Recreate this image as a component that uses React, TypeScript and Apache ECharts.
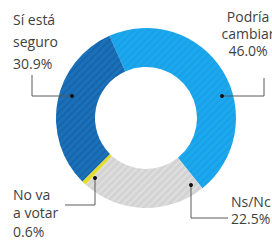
import React, { useEffect, useRef } from "react";
import * as echarts from "echarts";

// ---- data ----
const categories = ["Podría cambiar", "Ns/Nc", "No va a votar", "Sí está seguro"];
const values = [46.0, 22.5, 0.6, 30.9];
const labelTexts = [["Podría", "cambiar"], ["Ns/Nc"], ["No va", "a votar"], ["Sí está", "seguro"]];

// ---- styles ----
const colors = ["#1ca8ee", "#d3d3d3", "#e4dc2a", "#1a71b9"];
const stripeColors = ["rgba(0,60,120,0.08)", "rgba(255,255,255,0.25)", "rgba(255,255,255,0.12)", "rgba(0,20,60,0.12)"];
const labelPlacement = [
  { x: 248, y: 8, align: "center", lh: 17, line: [[222, 96], [264, 96], [264, 78]] },
  { x: 231, y: 193, align: "left", lh: 17, line: [[191, 185], [191, 218], [228, 218]] },
  { x: 13, y: 185, align: "left", lh: 18.5, line: [[95, 178], [95, 205], [65, 205]] },
  { x: 13, y: 8, align: "left", lh: 22, line: [[72, 96], [32, 96], [32, 75]] },
];

export default function App() {
  const ref = useRef<HTMLDivElement>(null);
  useEffect(() => {
    document.body.style.margin = "0";
    const chart = echarts.init(ref.current!, null, { renderer: "svg" });
    const graphics: any[] = [];
    categories.forEach((c, i) => {
      const p = labelPlacement[i];
      graphics.push({
        type: "polyline",
        shape: { points: p.line },
        style: { stroke: "#5a5a5a", lineWidth: 1, fill: null },
        z: 10,
      });
      graphics.push({
        type: "circle",
        shape: { cx: p.line[0][0], cy: p.line[0][1], r: 2 },
        style: { fill: "#111" },
        z: 11,
      });
      const text = [...labelTexts[i], values[i].toFixed(1) + "%"].join("\n");
      graphics.push({
        type: "text",
        x: p.x,
        y: p.y,
        z: 12,
        style: {
          text,
          fontSize: 14,
          fontFamily: "Open Sans",
          fill: "#3f3f3f",
          lineHeight: p.lh,
          textAlign: p.align,
          align: p.align,
          textVerticalAlign: "top",
          verticalAlign: "top",
        },
      });
    });
    chart.setOption({
      animation: false,
      backgroundColor: "#ffffff",
      series: [
        {
          type: "pie",
          center: [146, 118],
          radius: [51, 90],
          startAngle: 114,
          clockwise: true,
          minAngle: 3,
          silent: true,
          label: { show: false },
          labelLine: { show: false },
          data: categories.map((name, i) => ({
            name,
            value: values[i],
            itemStyle: {
              color: colors[i],
              decal: {
                symbol: "rect",
                symbolSize: 1,
                dashArrayX: [1, 0],
                dashArrayY: [2, 3],
                rotation: -Math.PI / 4,
                color: stripeColors[i],
              },
            },
          })),
        },
      ],
      graphic: graphics,
    });
    return () => chart.dispose();
  }, []);
  return <div ref={ref} style={{ width: 272, height: 250 }} />;
}
